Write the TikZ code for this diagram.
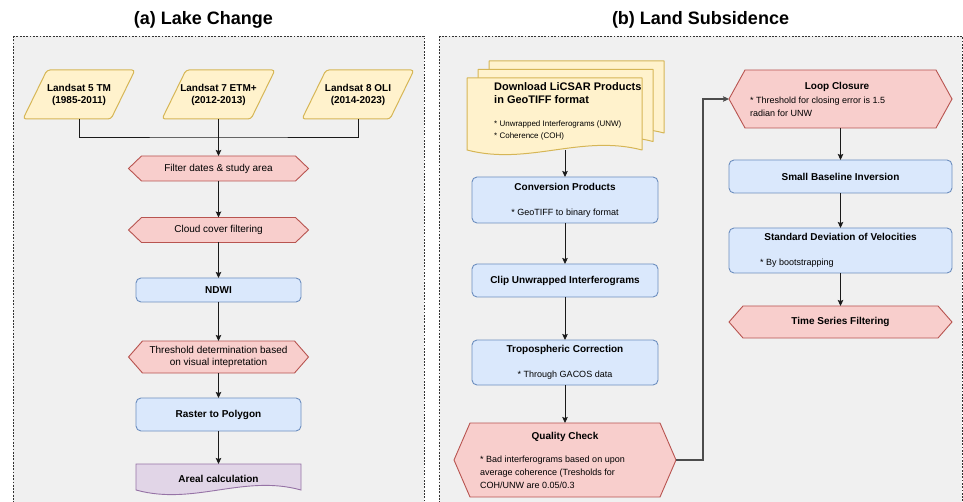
\documentclass[tikz,border=0pt]{standalone}
\usepackage{fontspec}
\setmainfont{Liberation Sans}
\usetikzlibrary{arrows.meta,calc}
\definecolor{yelF}{HTML}{FFF2CC}
\definecolor{yelB}{HTML}{D6B656}
\definecolor{redF}{HTML}{F8CECC}
\definecolor{redB}{HTML}{B85450}
\definecolor{bluF}{HTML}{DAE8FC}
\definecolor{bluB}{HTML}{6C8EBF}
\definecolor{purF}{HTML}{E1D5E7}
\definecolor{purB}{HTML}{9673A6}
\definecolor{panF}{HTML}{F0F0F0}
\definecolor{panB}{HTML}{333333}
\definecolor{arrC}{HTML}{1A1A1A}
\pgfdeclarelayer{panel}
\pgfdeclarelayer{shapes}
\pgfsetlayers{panel,shapes,main}
\newcommand\myhex[3]{\draw[#3] (#1.west) -- ([xshift=#2]#1.north west) -- ([xshift=-#2]#1.north east) -- (#1.east) -- ([xshift=-#2]#1.south east) -- ([xshift=#2]#1.south west) -- cycle;}
\newcommand\mypara[3]{\draw[#3, rounded corners=3pt] (#1.south west) -- ([xshift=#2]#1.north west) -- (#1.north east) -- ([xshift=-#2]#1.south east) -- cycle;}
\newcommand\mydoc[3]{\draw[#3] (#1.north west) -- (#1.north east) -- (#1.south east) .. controls ($(#1.south east)!0.35!(#1.south west)+(0,-#2)$) and ($(#1.south east)!0.65!(#1.south west)+(0,#2)$) .. (#1.south west) -- cycle;}
\newcommand\myrect[2]{\draw[#2, rounded corners=5pt] (#1.north west) rectangle (#1.south east);}
\begin{document}
\begin{tikzpicture}[x=1pt,y=-1pt,
  frame/.style={inner sep=0pt, outer sep=0pt},
  txt/.style={inner sep=0pt, align=center, font=\fontsize{10}{12}\selectfont},
  btxt/.style={inner sep=0pt, align=center, font=\bfseries\fontsize{10}{12}\selectfont},
  body/.style={inner sep=0pt, align=left, font=\fontsize{9}{13}\selectfont},
  yel/.style={draw=yelB, fill=yelF, line width=1pt, line join=round},
  red/.style={draw=redB, fill=redF, line width=0.9pt},
  blu/.style={draw=bluB, fill=bluF, line width=0.9pt},
  pur/.style={draw=purB, fill=purF, line width=0.9pt},
  panelbox/.style={draw=panB, fill=panF, line width=0.8pt, dash pattern=on 1.8pt off 1.5pt},
  arr/.style={draw=arrC, line width=0.9pt, -{Stealth[length=6pt,width=5.5pt,inset=1pt]}},
  plain/.style={draw=arrC, line width=0.9pt}]
\useasboundingbox (0,0) rectangle (963,502);

% titles
\node[inner sep=0pt, font=\bfseries\fontsize{18}{20}\selectfont] (ta) at (203.5,20) {(a) Lake Change};
\node[inner sep=0pt, font=\bfseries\fontsize{18}{20}\selectfont] (tb) at (700.5,20) {(b) Land Subsidence};

% panels
\begin{pgfonlayer}{panel}
\fill[white] (0,0) rectangle (963,502);
\draw[panelbox] (13,36) rectangle (424,512);
\draw[panelbox] (439,36) rectangle (962,512);
\end{pgfonlayer}

% ---------- (a) ----------
\node[frame, minimum width=112pt, minimum height=49pt, btxt] (L5) at (79,94.5) {Landsat 5 TM\\(1985-2011)};
\node[frame, minimum width=113pt, minimum height=49pt, btxt] (L7) at (218.5,94.5) {Landsat 7 ETM+\\(2012-2013)};
\node[frame, minimum width=112pt, minimum height=49pt, btxt] (L8) at (358,94.5) {Landsat 8 OLI\\(2014-2023)};
\node[frame, minimum width=180pt, minimum height=25pt, txt] (filt) at (218.5,168.5) {Filter dates \& study area};
\node[frame, minimum width=180pt, minimum height=25pt, txt] (cloud) at (218.5,230) {Cloud cover filtering};
\node[frame, minimum width=165pt, minimum height=24pt, btxt] (ndwi) at (218.5,290) {NDWI};
\node[frame, minimum width=180pt, minimum height=32pt, txt] (thr) at (218.5,357) {Threshold determination based\\on visual intepretation};
\node[frame, minimum width=165pt, minimum height=33pt, btxt] (rast) at (218.5,414.5) {Raster to Polygon};
\node[frame, minimum width=165pt, minimum height=26pt] (areal) at (218.5,477) {};
\node[btxt] (arealt) at (218.5,479) {Areal calculation};

\begin{pgfonlayer}{shapes}
\mypara{L5}{24pt}{yel}
\mypara{L7}{24pt}{yel}
\mypara{L8}{24pt}{yel}
\myhex{filt}{13pt}{red}
\myhex{cloud}{13pt}{red}
\myrect{ndwi}{blu}
\myhex{thr}{14pt}{red}
\myrect{rast}{blu}
\mydoc{areal}{16}{pur}
\end{pgfonlayer}

\coordinate (join) at (218.5,137);
\draw[plain] (L5.south) |- (join) -| (L8.south);
\draw[arr] (L7.south) -- (filt.north);
\draw[arr] (filt.south) -- (cloud.north);
\draw[arr] (cloud.south) -- (ndwi.north);
\draw[arr] (ndwi.south) -- (thr.north);
\draw[arr] (thr.south) -- (rast.north);
\draw[arr] (rast.south) -- (areal.north);

% ---------- (b) ----------
\node[frame, minimum width=175pt, minimum height=72pt] (dl3) at (576.5,97) {};
\node[frame, minimum width=175pt, minimum height=72pt] (dl2) at (565.5,105.5) {};
\node[frame, minimum width=175pt, minimum height=72pt] (dl) at (554.5,114) {};
\node[inner sep=0pt, align=left, anchor=west, font=\bfseries\fontsize{11}{13}\selectfont] (dlt) at (494,93.5) {Download LiCSAR Products\\in GeoTIFF format};
\node[inner sep=0pt, align=left, anchor=west, font=\fontsize{8}{12}\selectfont] (dlb) at (494,130) {* Unwrapped Interferograms (UNW)\\* Coherence (COH)};

\node[frame, minimum width=186pt, minimum height=46pt] (conv) at (565,200) {};
\node[btxt] (convt) at (565,187) {Conversion Products};
\node[body] (convb) at (565,213) {* GeoTIFF to binary format};

\node[frame, minimum width=186pt, minimum height=33pt, btxt] (clip) at (565,280.5) {Clip Unwrapped Interferograms};

\node[frame, minimum width=186pt, minimum height=45pt] (trop) at (565,362.5) {};
\node[btxt] (tropt) at (565,350) {Tropospheric Correction};
\node[body] (tropb) at (565,375) {* Through GACOS data};

\node[frame, minimum width=222pt, minimum height=74pt] (qc) at (565,460) {};
\node[btxt] (qct) at (565,437) {Quality Check};
\node[body, anchor=west] (qcb) at (480,472) {* Bad interferograms based on upon\\average coherence (Tresholds for\\COH/UNW are 0.05/0.3};

\node[frame, minimum width=223pt, minimum height=58pt] (loop) at (840.5,99) {};
\node[btxt] (loopt) at (837,87) {Loop Closure};
\node[body, anchor=west, font=\fontsize{9}{12.5}\selectfont] (loopb) at (750,107) {* Threshold for closing error is 1.5\\radian for UNW};

\node[frame, minimum width=223pt, minimum height=33pt, btxt] (sbi) at (840.5,176.5) {Small Baseline Inversion};

\node[frame, minimum width=223pt, minimum height=45pt] (sdv) at (840.5,250.5) {};
\node[btxt] (sdvt) at (840.5,237) {Standard Deviation of Velocities};
\node[body, anchor=west] (sdvb) at (760,263) {* By bootstrapping};

\node[frame, minimum width=223pt, minimum height=32pt, btxt] (tsf) at (840.5,322) {Time Series Filtering};

\begin{pgfonlayer}{shapes}
\mydoc{dl3}{16}{yel}
\mydoc{dl2}{16}{yel}
\mydoc{dl}{16}{yel}
\myrect{conv}{blu}
\myrect{clip}{blu}
\myrect{trop}{blu}
\myhex{qc}{16pt}{red}
\myhex{loop}{16pt}{red}
\myrect{sbi}{blu}
\myrect{sdv}{blu}
\myhex{tsf}{14pt}{red}
\end{pgfonlayer}

\draw[arr] (conv.north |- dl.south) -- (conv.north);
\draw[arr] (conv.south) -- (clip.north);
\draw[arr] (clip.south) -- (trop.north);
\draw[arr] (trop.south) -- (qc.north);
\coordinate (bend) at (703,460);
\draw[arr, draw=black!70, line width=1.1pt] (qc.east) -- (bend) |- (loop.west);
\draw[arr] (loop.south) -- (sbi.north);
\draw[arr] (sbi.south) -- (sdv.north);
\draw[arr] (sdv.south) -- (tsf.north);
\end{tikzpicture}
\end{document}
